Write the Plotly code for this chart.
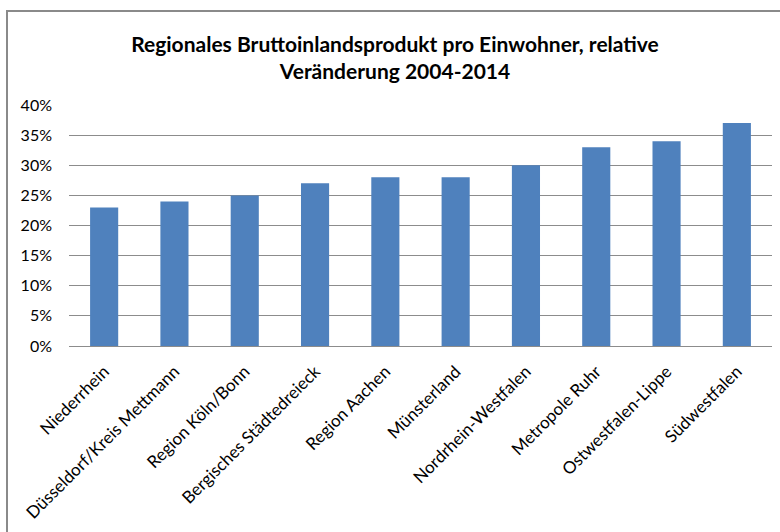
import plotly.graph_objects as go

categories = ["Niederrhein", "Düsseldorf/Kreis Mettmann", "Region Köln/Bonn",
              "Bergisches Städtedreieck", "Region Aachen", "Münsterland",
              "Nordrhein-Westfalen", "Metropole Ruhr", "Ostwestfalen-Lippe",
              "Südwestfalen"]
values = [0.23, 0.24, 0.25, 0.27, 0.28, 0.28, 0.30, 0.33, 0.34, 0.37]
y_ticks = [0, 0.05, 0.10, 0.15, 0.20, 0.25, 0.30, 0.35, 0.40]
y_tick_labels = ["0%", "5%", "10%", "15%", "20%", "25%", "30%", "35%", "40%"]
title = "<b>Regionales Bruttoinlandsprodukt pro Einwohner, relative<br>Veränderung 2004-2014</b>"

FONT = "Lato, 'Open Sans', sans-serif"

fig = go.Figure(go.Bar(x=categories, y=values, marker=dict(color="#4F81BD", line=dict(width=0))))

W, H = 780, 532
L, R, T, B = 69, 772, 105, 346

fig.update_layout(
    width=W, height=H,
    margin=dict(l=L, r=W - R, t=T, b=H - B, autoexpand=False),
    paper_bgcolor="white", plot_bgcolor="white",
    bargap=0.6,
    showlegend=False,
    font=dict(family=FONT, size=16, color="black"),
    title=dict(text=title, x=395 / W, xanchor="center", xref="container",
               y=1 - 52 / H, yanchor="middle", font=dict(size=21, family=FONT, color="black")),
)
fig.update_yaxes(range=[0, 0.40], tickvals=y_ticks, ticktext=y_tick_labels,
                 showgrid=True, gridcolor="#8C8C8C", gridwidth=1, zeroline=False,
                 showline=False, ticks="", ticklabelstandoff=16, automargin=False,
                 tickfont=dict(size=16, family=FONT))
fig.update_xaxes(tickangle=-45, showline=True, linecolor="#8C8C8C", linewidth=1,
                 ticks="", showgrid=False, ticklabelstandoff=8, automargin=False,
                 tickfont=dict(size=17, family=FONT))

def px2x(px):
    return (px - L) / (R - L)

def px2y(py):
    return (B - py) / (B - T)

fig.add_shape(type="rect", xref="paper", yref="paper",
              x0=px2x(7), x1=px2x(800), y0=px2y(11), y1=px2y(560),
              line=dict(color="#8A8A8A", width=2), fillcolor="rgba(0,0,0,0)", layer="below")

fig.write_html("out.html", config={"displayModeBar": False},
               post_script="document.body.style.margin='0';document.body.style.overflow='hidden';")
